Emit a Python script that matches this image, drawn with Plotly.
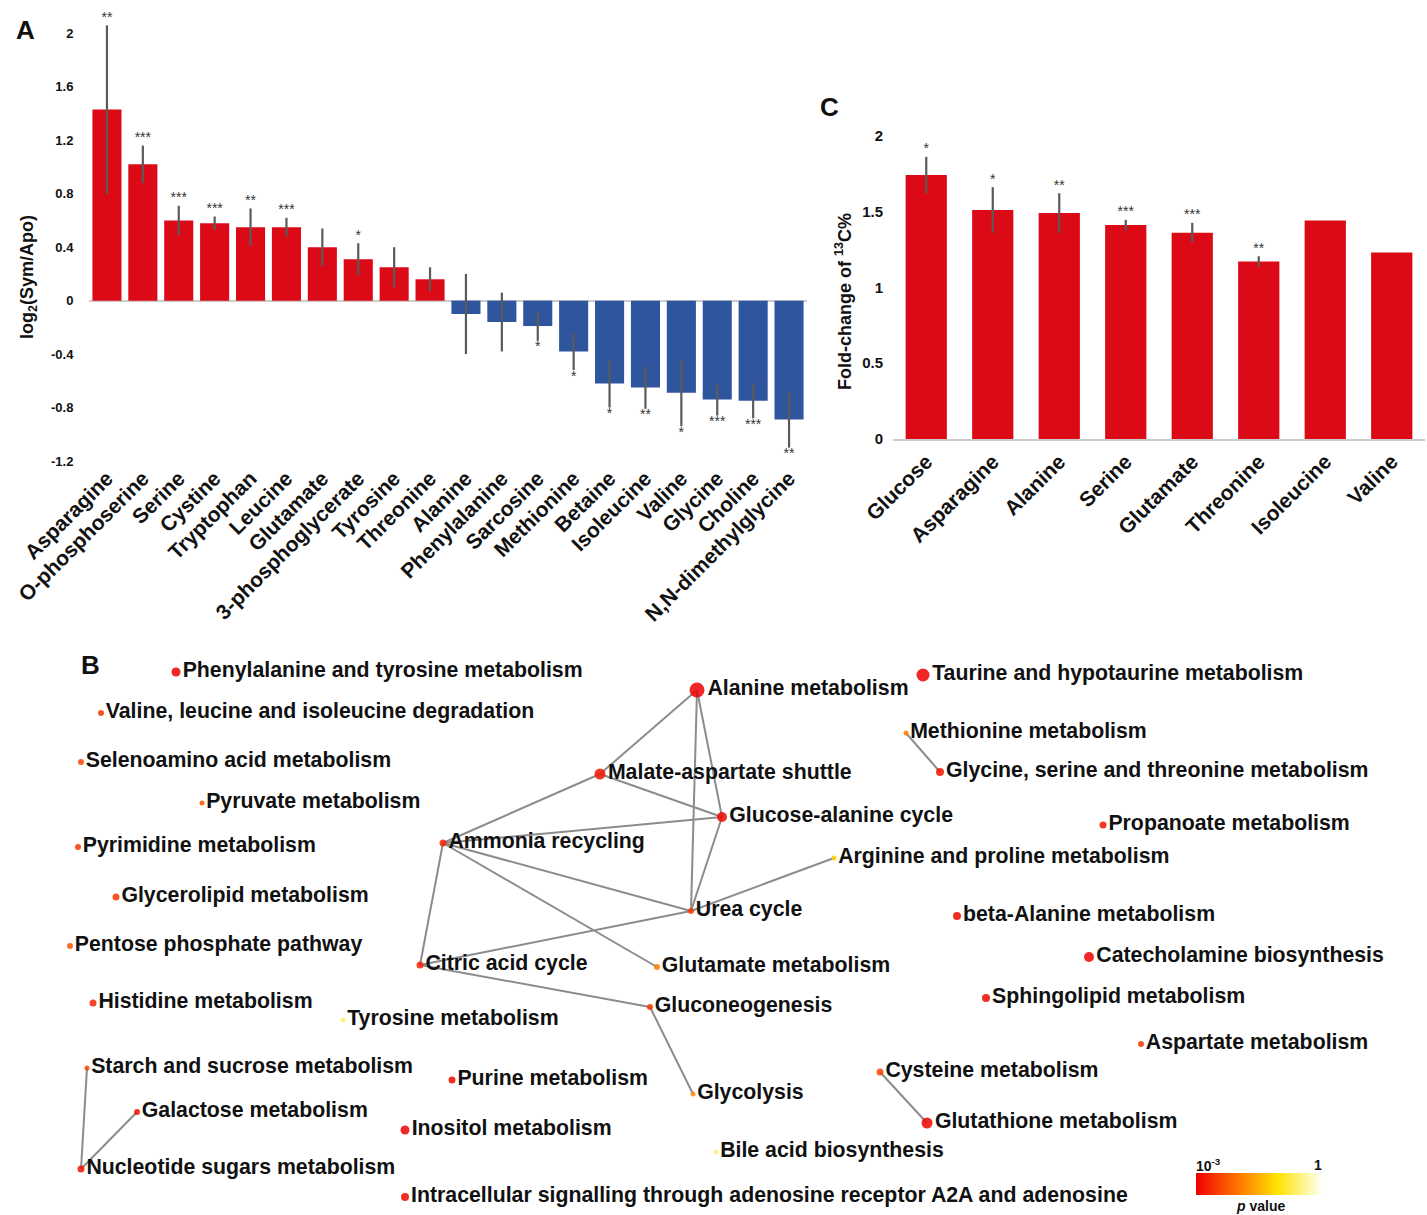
import math
import plotly.graph_objects as go

W, H = 1427, 1215
FONT = "Arial, 'Liberation Sans', Helvetica, sans-serif"

# ---------------- Panel A data ----------------
a_metabolites = ["Asparagine", "O-phosphoserine", "Serine", "Cystine", "Tryptophan", "Leucine",
                 "Glutamate", "3-phosphoglycerate", "Tyrosine", "Threonine", "Alanine",
                 "Phenylalanine", "Sarcosine", "Methionine", "Betaine", "Isoleucine", "Valine",
                 "Glycine", "Choline", "N,N-dimethylglycine"]
a_log2fc = [1.43, 1.02, 0.60, 0.58, 0.55, 0.55, 0.40, 0.31, 0.25, 0.16, -0.10,
            -0.16, -0.19, -0.38, -0.62, -0.65, -0.69, -0.74, -0.75, -0.89]
a_err = [0.63, 0.14, 0.11, 0.05, 0.14, 0.07, 0.14, 0.12, 0.15, 0.09, 0.30,
         0.22, 0.11, 0.14, 0.18, 0.16, 0.25, 0.12, 0.13, 0.21]
a_sig = ["**", "***", "***", "***", "**", "***", "", "*", "", "", "",
         "", "*", "*", "*", "**", "*", "***", "***", "**"]
a_ticks = [-1.2, -0.8, -0.4, 0, 0.4, 0.8, 1.2, 1.6, 2]
a_ticktext = ["-1.2", "-0.8", "-0.4", "0", "0.4", "0.8", "1.2", "1.6", "2"]

# ---------------- Panel C data ----------------
c_metabolites = ["Glucose", "Asparagine", "Alanine", "Serine", "Glutamate", "Threonine",
                 "Isoleucine", "Valine"]
c_fold = [1.74, 1.51, 1.49, 1.41, 1.36, 1.17, 1.44, 1.23]
c_err = [0.12, 0.15, 0.13, 0.035, 0.065, 0.035, None, None]
c_sig = ["*", "*", "**", "***", "***", "**", "", ""]
c_ticks = [0, 0.5, 1, 1.5, 2]
c_ticktext = ["0", "0.5", "1", "1.5", "2"]

# ---------------- Panel B data (pathway network) ----------------
pathways = ["Phenylalanine and tyrosine metabolism", "Valine, leucine and isoleucine degradation",
            "Selenoamino acid metabolism", "Pyruvate metabolism", "Pyrimidine metabolism",
            "Glycerolipid metabolism", "Pentose phosphate pathway", "Histidine metabolism",
            "Tyrosine metabolism", "Starch and sucrose metabolism", "Galactose metabolism",
            "Nucleotide sugars metabolism", "Purine metabolism", "Inositol metabolism",
            "Intracellular signalling through adenosine receptor A2A and adenosine",
            "Alanine metabolism", "Malate-aspartate shuttle", "Glucose-alanine cycle",
            "Ammonia recycling", "Urea cycle", "Citric acid cycle", "Glutamate metabolism",
            "Gluconeogenesis", "Glycolysis", "Bile acid biosynthesis",
            "Taurine and hypotaurine metabolism", "Methionine metabolism",
            "Glycine, serine and threonine metabolism", "Propanoate metabolism",
            "Arginine and proline metabolism", "beta-Alanine metabolism",
            "Catecholamine biosynthesis", "Sphingolipid metabolism", "Aspartate metabolism",
            "Cysteine metabolism", "Glutathione metabolism"]
node_x = [176, 101, 81, 202, 78, 116, 70, 93, 343, 87, 137, 81, 452, 405, 405,
          697, 600, 722, 443, 691, 420, 657, 650, 693, 716,
          923, 906, 940, 1103, 834, 957, 1089, 986, 1141, 880, 927]
node_y = [672, 713, 762, 803, 847, 897, 946, 1003, 1020, 1068, 1112, 1169, 1080, 1130, 1197,
          690, 774, 817, 843, 911, 965, 967, 1007, 1094, 1152,
          675, 733, 772, 825, 858, 916, 957, 998, 1044, 1072, 1123]
node_p = [0.001, 0.003, 0.004, 0.005, 0.003, 0.003, 0.005, 0.002, 0.25, 0.004, 0.0015, 0.0015,
          0.0012, 0.001, 0.0012, 0.001, 0.0015, 0.0012, 0.002, 0.003, 0.002, 0.012, 0.003,
          0.015, 0.3, 0.001, 0.012, 0.0015, 0.0015, 0.06, 0.0012, 0.001, 0.0012, 0.003,
          0.004, 0.001]
node_size = [9, 6, 6, 5, 6, 7, 6, 7, 5, 5, 6, 7, 7, 9, 8,
             15, 11, 10, 7, 6, 7, 6, 6, 5, 5,
             13, 5, 8, 7, 5, 8, 10, 8, 6, 7, 11]
edges = [("Alanine metabolism", "Malate-aspartate shuttle"),
         ("Alanine metabolism", "Glucose-alanine cycle"),
         ("Alanine metabolism", "Urea cycle"),
         ("Malate-aspartate shuttle", "Ammonia recycling"),
         ("Malate-aspartate shuttle", "Glucose-alanine cycle"),
         ("Ammonia recycling", "Glucose-alanine cycle"),
         ("Ammonia recycling", "Urea cycle"),
         ("Ammonia recycling", "Glutamate metabolism"),
         ("Ammonia recycling", "Citric acid cycle"),
         ("Glucose-alanine cycle", "Urea cycle"),
         ("Urea cycle", "Citric acid cycle"),
         ("Urea cycle", "Arginine and proline metabolism"),
         ("Citric acid cycle", "Gluconeogenesis"),
         ("Gluconeogenesis", "Glycolysis"),
         ("Methionine metabolism", "Glycine, serine and threonine metabolism"),
         ("Cysteine metabolism", "Glutathione metabolism"),
         ("Starch and sucrose metabolism", "Nucleotide sugars metabolism"),
         ("Galactose metabolism", "Nucleotide sugars metabolism")]

RED = "#dc0a17"
BLUE = "#2f559f"
ERRC = "#5a5a5a"
pcolorscale = [[0.0, "#ee0000"], [0.35, "#ff7a00"], [0.65, "#ffe300"], [1.0, "#fffff2"]]

fig = go.Figure()

# Panel A bars
fig.add_trace(go.Bar(
    x=a_metabolites, y=a_log2fc, width=0.81,
    marker=dict(color=[RED if v > 0 else BLUE for v in a_log2fc], line=dict(width=0)),
    error_y=dict(type="data", array=a_err, color=ERRC, thickness=2.2, width=0),
    xaxis="x", yaxis="y", showlegend=False, hoverinfo="skip"))
a_pos = [i for i, v in enumerate(a_log2fc) if v > 0 and a_sig[i]]
a_neg = [i for i, v in enumerate(a_log2fc) if v <= 0 and a_sig[i]]
fig.add_trace(go.Scatter(
    x=[a_metabolites[i] for i in a_pos], y=[a_log2fc[i] + a_err[i] for i in a_pos],
    text=[a_sig[i] for i in a_pos], mode="text", textposition="top center",
    textfont=dict(family=FONT, size=14, color="#333333"),
    xaxis="x", yaxis="y", showlegend=False, hoverinfo="skip"))
fig.add_trace(go.Scatter(
    x=[a_metabolites[i] for i in a_neg], y=[a_log2fc[i] - a_err[i] for i in a_neg],
    text=[a_sig[i] for i in a_neg], mode="text", textposition="bottom center",
    textfont=dict(family=FONT, size=14, color="#333333"),
    xaxis="x", yaxis="y", showlegend=False, hoverinfo="skip"))

# Panel C bars
fig.add_trace(go.Bar(
    x=c_metabolites, y=c_fold, width=0.62, marker=dict(color=RED, line=dict(width=0)),
    error_y=dict(type="data", array=c_err, color=ERRC, thickness=2.2, width=0),
    xaxis="x2", yaxis="y2", showlegend=False, hoverinfo="skip"))
c_idx = [i for i, s in enumerate(c_sig) if s]
fig.add_trace(go.Scatter(
    x=[c_metabolites[i] for i in c_idx], y=[c_fold[i] + c_err[i] for i in c_idx],
    text=[c_sig[i] for i in c_idx], mode="text", textposition="top center",
    textfont=dict(family=FONT, size=14, color="#333333"),
    xaxis="x2", yaxis="y2", showlegend=False, hoverinfo="skip"))

# Panel B network
idx = {n: i for i, n in enumerate(pathways)}
ex, ey = [], []
for a, b in edges:
    ex += [node_x[idx[a]], node_x[idx[b]], None]
    ey += [node_y[idx[a]], node_y[idx[b]], None]
fig.add_trace(go.Scatter(x=ex, y=ey, mode="lines", line=dict(color="#8c8c8c", width=2),
                         xaxis="x3", yaxis="y3", showlegend=False, hoverinfo="skip"))
fig.add_trace(go.Scatter(
    x=node_x, y=node_y, mode="markers+text", text=pathways, textposition="middle right",
    textfont=dict(family=FONT, size=21.3, color="#111111", weight="bold"),
    marker=dict(size=node_size, color=[math.log10(p) for p in node_p], cmin=-3, cmax=0,
                colorscale=pcolorscale, opacity=0.85, line=dict(width=0), showscale=True,
                colorbar=dict(orientation="h", x=1258 / W, xanchor="center",
                              y=1 - 1184 / H, yanchor="middle", len=145, lenmode="pixels",
                              thickness=22, outlinewidth=0, showticklabels=False, ticks="")),
    xaxis="x3", yaxis="y3", showlegend=False, hoverinfo="skip"))

tickfont_cat = dict(family=FONT, size=21, color="#111111", weight="bold")
fig.update_layout(
    width=W, height=H, margin=dict(l=0, r=0, t=0, b=0, pad=0, autoexpand=False),
    paper_bgcolor="white", plot_bgcolor="rgba(0,0,0,0)",
    font=dict(family=FONT, color="#111111"),
    xaxis=dict(domain=[89 / W, 807 / W], anchor="y", type="category", tickangle=-45,
               range=[-0.5, len(a_metabolites) - 0.5],
               tickfont=tickfont_cat, showgrid=False, showline=False, ticks="",
               zeroline=False, fixedrange=True, automargin=False),
    yaxis=dict(domain=[1 - 461 / H, 1 - 8 / H], anchor="x", range=[-1.2, 2.19],
               tickvals=a_ticks, ticktext=a_ticktext, showgrid=False,
               tickfont=dict(family=FONT, size=13, color="#111111", weight="bold"),
               ticks="outside", ticklen=12, tickcolor="rgba(0,0,0,0)",
               zeroline=True, zerolinecolor="#cccccc", zerolinewidth=2, showline=False,
               fixedrange=True, automargin=False),
    xaxis2=dict(domain=[893 / W, 1425 / W], anchor="y2", type="category", tickangle=-45,
                range=[-0.5, len(c_metabolites) - 0.5],
                tickfont=tickfont_cat, showgrid=False, showline=True, linecolor="#cccccc",
                linewidth=2, ticks="", zeroline=False, fixedrange=True, automargin=False),
    yaxis2=dict(domain=[1 - 439 / H, 1 - 125 / H], anchor="x2", range=[0, 2.07],
                tickvals=c_ticks, ticktext=c_ticktext, showgrid=False,
                tickfont=dict(family=FONT, size=15, color="#111111", weight="bold"),
                ticks="outside", ticklen=6, tickcolor="rgba(0,0,0,0)",
                zeroline=False, showline=False, fixedrange=True, automargin=False),
    xaxis3=dict(domain=[0, 1], anchor="y3", range=[0, W], visible=False, fixedrange=True,
                automargin=False),
    yaxis3=dict(domain=[0, 1], anchor="x3", range=[H, 0], visible=False, fixedrange=True,
                automargin=False),
)

ann = [
    dict(text="<b>A</b>", x=25 / W, y=1 - 30 / H, font=dict(size=26)),
    dict(text="<b>C</b>", x=829 / W, y=1 - 107 / H, font=dict(size=26)),
    dict(text="<b>B</b>", x=90 / W, y=1 - 665 / H, font=dict(size=26)),
    dict(text="<b>log<sub>2</sub>(Sym/Apo)</b>", x=28 / W, y=1 - 277 / H, textangle=-90,
         font=dict(size=18)),
    dict(text="<b>Fold-change of <sup>13</sup>C%</b>", x=843 / W, y=1 - 302 / H,
         textangle=-90, font=dict(size=18)),
    dict(text="<b>10<sup>-3</sup></b>", x=1208 / W, y=1 - 1165 / H, font=dict(size=14)),
    dict(text="<b>1</b>", x=1318 / W, y=1 - 1165 / H, font=dict(size=14)),
    dict(text="<b><i>p</i> value</b>", x=1260 / W, y=1 - 1206 / H, font=dict(size=14)),
]
for a in ann:
    a.update(xref="paper", yref="paper", showarrow=False, xanchor="center", yanchor="middle")
    a["font"].update(family=FONT, color="#111111")
fig.update_layout(annotations=ann)

fig.write_html("out.html", config={"displayModeBar": False},
               post_script="document.body.style.margin='0';document.body.style.overflow='hidden';")
